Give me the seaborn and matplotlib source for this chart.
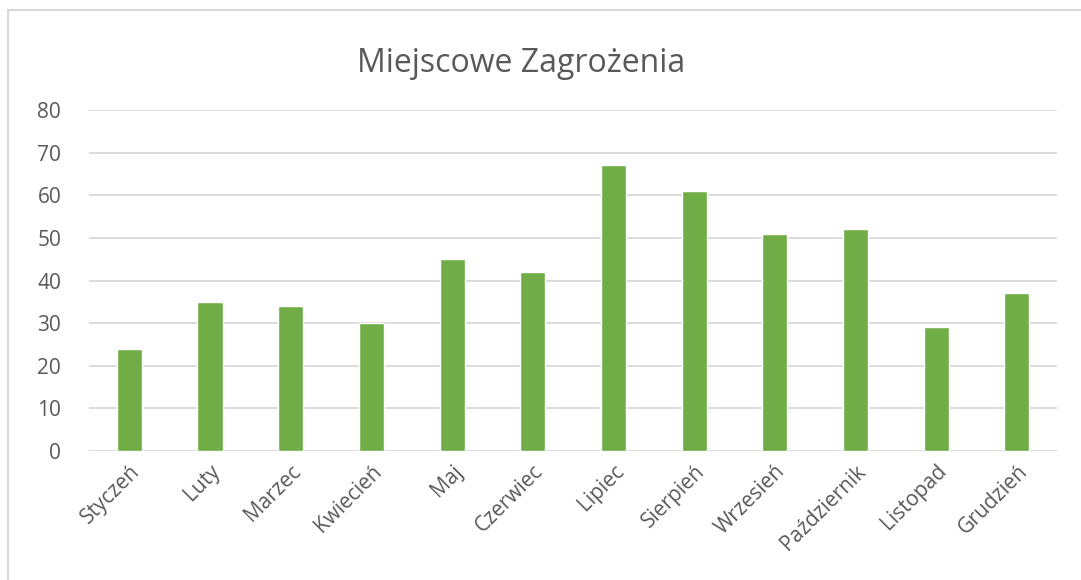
import pandas as pd
import numpy as np
import matplotlib.pyplot as plt
import seaborn as sns
from matplotlib.patches import Rectangle

months = ["Styczeń", "Luty", "Marzec", "Kwiecień", "Maj", "Czerwiec",
          "Lipiec", "Sierpień", "Wrzesień", "Październik", "Listopad", "Grudzień"]
values = [24, 35, 34, 30, 45, 42, 67, 61, 51, 52, 29, 37]

df = pd.DataFrame({"Miesiac": months, "Liczba": values})

sns.set_style("white")
plt.rcParams['font.family'] = ['Open Sans', 'DejaVu Sans']

fig = plt.figure(figsize=(10.81, 5.8), dpi=100)
ax = fig.add_axes([0.0823, 0.2224, 0.8957, 0.5879])

sns.barplot(data=df, x="Miesiac", y="Liczba", color="#70AD47", width=0.31,
            saturation=1, ax=ax, zorder=3)

ax.set_ylim(0, 80)
ax.set_yticks(range(0, 81, 10))
ax.set_xlim(-0.5, len(months) - 0.5)
ax.yaxis.grid(True, color="#d9d9d9", linewidth=1.3, zorder=0)
ax.set_axisbelow(True)
for s in ax.spines.values():
    s.set_visible(False)
ax.set_xlabel("")
ax.set_ylabel("")
ax.tick_params(axis="both", length=0, labelsize=15, labelcolor="#595959")
ax.tick_params(axis="y", pad=20)
plt.setp(ax.get_xticklabels(), rotation=45, ha="right", rotation_mode="anchor")
ax.tick_params(axis="x", pad=7)

fig.text(0.482, 0.89, "Miejscowe Zagrożenia", fontsize=23, color="#595959",
         ha="center", va="center")

# chart frame
fig.patches.append(Rectangle((8 / 1081, -0.1), 1.1, 1.1 - 10 / 580,
                             transform=fig.transFigure, fill=False,
                             edgecolor="#d9d9d9", linewidth=1.5))

plt.savefig("out.png", dpi=100, facecolor="white")
